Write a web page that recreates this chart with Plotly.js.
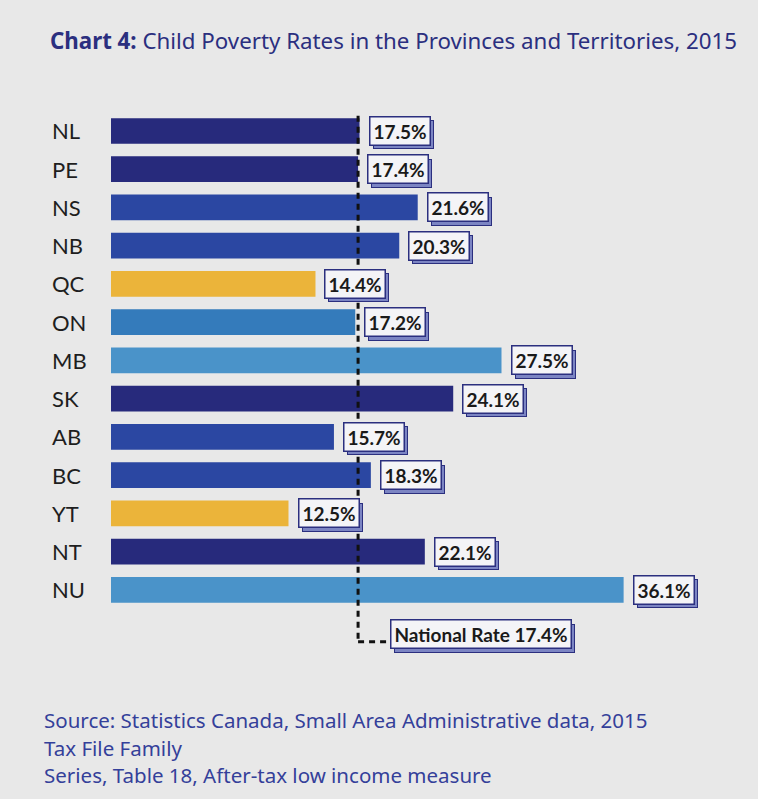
<!DOCTYPE html>
<html>
<head>
<meta charset="utf-8">
<script src="https://cdn.plot.ly/plotly-3.0.1.min.js"></script>
<style>html,body{margin:0;padding:0;background:#e8e8e8;}</style>
</head>
<body>
<div id="chart" style="width:758px;height:799px;"></div>
<script>
// ---- data ----
const provinces = ["NL","PE","NS","NB","QC","ON","MB","SK","AB","BC","YT","NT","NU"];
const rates = [17.5, 17.4, 21.6, 20.3, 14.4, 17.2, 27.5, 24.1, 15.7, 18.3, 12.5, 22.1, 36.1];
const barColors = ["#272a7c","#272a7c","#2b47a2","#2b47a2","#ebb43a","#347bbb","#4a93c9","#272a7c","#2b47a2","#2b47a2","#ebb43a","#272a7c","#4a93c9"];
const nationalRate = 17.4;
const titleBold = "Chart 4:";
const titleRest = "Child Poverty Rates in the Provinces and Territories, 2015";
const sourceLines = ["Source: Statistics Canada, Small Area Administrative data, 2015","Tax File Family","Series, Table 18, After-tax low income measure"];

const idx = provinces.map((_, i) => i);
const navy = "#2b2f7f";
const labelFont = "Lato";
const labelSize = 19;

const cnv = document.createElement("canvas").getContext("2d");
function textWidth(t) {
  cnv.font = "bold " + labelSize + "px " + labelFont;
  return Math.ceil(cnv.measureText(t).width);
}

const trace = {
  type: "bar", orientation: "h",
  x: rates, y: idx,
  width: 0.67,
  marker: {color: barColors, line: {width: 0}},
  hoverinfo: "skip"
};

const annotations = [];
provinces.forEach((p, i) => {
  annotations.push({
    xref: "paper", yref: "y", x: 0, y: i, xanchor: "left", yanchor: "middle", xshift: -61,
    text: p, showarrow: false, font: {family: "Lato", size: 22, color: "#1e1e1e"}
  });
});
function boxLabel(xv, yv, text, xshift) {
  const w = textWidth(text) + 1;
  const h = 23;
  annotations.push({
    xref: "x", yref: "y", x: xv, y: yv, xanchor: "left", yanchor: "middle",
    xshift: xshift + 4, yshift: -4, text: "\u00a0", width: w, height: h, showarrow: false,
    font: {family: labelFont, size: labelSize, color: "rgba(0,0,0,0)"},
    bgcolor: "#7c85c3", bordercolor: navy, borderwidth: 1, borderpad: 2
  });
  annotations.push({
    xref: "x", yref: "y", x: xv, y: yv, xanchor: "left", yanchor: "middle",
    xshift: xshift, text: "<b>" + text + "</b>", width: w, height: h, showarrow: false,
    font: {family: labelFont, size: labelSize, color: "#1a1a1a"},
    bgcolor: "#f4f4f7", bordercolor: navy, borderwidth: 1.5, borderpad: 2
  });
}
rates.forEach((r, i) => boxLabel(r, i, r.toFixed(1) + "%", 9));
boxLabel(nationalRate, provinces.length + 0.16, "National Rate " + nationalRate.toFixed(1) + "%", 32);

annotations.push({
  xref: "paper", yref: "paper", x: 0, y: 1, xanchor: "left", yanchor: "middle",
  xshift: -63, yshift: 68,
  text: "<b>" + titleBold + "</b> " + titleRest, showarrow: false,
  font: {family: "Noto Sans", size: 22.3, color: navy}
});
sourceLines.forEach((s, i) => {
  annotations.push({
    xref: "paper", yref: "paper", x: 0, y: 0, xanchor: "left", yanchor: "middle",
    xshift: -69, yshift: -(69 + 27.5 * i),
    text: s, showarrow: false,
    font: {family: "Noto Sans", size: 20.5, color: "#34409a"}
  });
});

const shapes = [
  {type: "line", xref: "x", yref: "y", x0: nationalRate, x1: nationalRate, y0: -0.4, y1: provinces.length + 0.36,
   line: {color: "#111", width: 3, dash: "6px,5px"}, layer: "above"},
  {type: "line", xref: "x", yref: "y", xsizemode: "pixel", xanchor: nationalRate, x0: 0, x1: 28,
   y0: provinces.length + 0.36, y1: provinces.length + 0.36,
   line: {color: "#111", width: 3, dash: "6px,5px"}, layer: "above"}
];

const layout = {
  width: 758, height: 799,
  paper_bgcolor: "#e8e8e8", plot_bgcolor: "#e8e8e8",
  margin: {l: 111, r: 8, t: 108, b: 148},
  showlegend: false,
  xaxis: {range: [0, 45], visible: false, fixedrange: true},
  yaxis: {range: [13.6, -0.6], visible: false, fixedrange: true},
  annotations: annotations,
  shapes: shapes
};

document.fonts.load("bold " + labelSize + "px " + labelFont).then(() => {
  Plotly.newPlot("chart", [trace], layout, {displayModeBar: false, staticPlot: true});
});
</script>
</body>
</html>
